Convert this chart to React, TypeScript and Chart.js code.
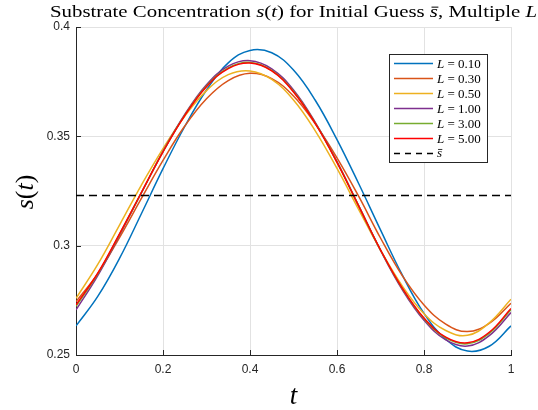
import React, { useEffect, useRef } from 'react';
import { Chart, registerables } from 'chart.js';

Chart.register(...registerables);

// ---- data ----
const tValues = [0, 0.05, 0.1, 0.15, 0.2, 0.25, 0.3, 0.35, 0.4, 0.45, 0.5, 0.55, 0.6, 0.65, 0.7, 0.75, 0.8, 0.85, 0.9, 0.95, 1];
const lLabels = ['0.10', '0.30', '0.50', '1.00', '3.00', '5.00'];
const sL010 = [0.2633, 0.2768, 0.2942, 0.3145, 0.3352, 0.3545, 0.3712, 0.3836, 0.3893, 0.3882, 0.3803, 0.3665, 0.3485, 0.3283, 0.3072, 0.2866, 0.2690, 0.2572, 0.2518, 0.2540, 0.2633];
const sL030 = [0.2744, 0.2872, 0.3037, 0.3215, 0.3390, 0.3547, 0.3672, 0.3755, 0.3788, 0.3764, 0.3684, 0.3557, 0.3402, 0.3225, 0.3035, 0.2863, 0.2729, 0.2641, 0.2607, 0.2645, 0.2737];
const sL050 = [0.2759, 0.2914, 0.3094, 0.3276, 0.3444, 0.3592, 0.3709, 0.3782, 0.3799, 0.3760, 0.3666, 0.3525, 0.3353, 0.3165, 0.2980, 0.2816, 0.2689, 0.2612, 0.2590, 0.2647, 0.2755];
const sL100 = [0.2706, 0.2863, 0.3048, 0.3240, 0.3431, 0.3600, 0.3736, 0.3821, 0.3846, 0.3809, 0.3712, 0.3564, 0.3384, 0.3182, 0.2979, 0.2799, 0.2659, 0.2569, 0.2541, 0.2589, 0.2694];
const sL300 = [0.2722, 0.2871, 0.3052, 0.3241, 0.3430, 0.3597, 0.3730, 0.3813, 0.3838, 0.3802, 0.3706, 0.3561, 0.3382, 0.3181, 0.2980, 0.2804, 0.2666, 0.2578, 0.2551, 0.2599, 0.2707];
const sL500 = [0.2729, 0.2874, 0.3054, 0.3242, 0.3429, 0.3595, 0.3727, 0.3810, 0.3835, 0.3799, 0.3703, 0.3559, 0.3381, 0.3181, 0.2981, 0.2806, 0.2669, 0.2582, 0.2556, 0.2604, 0.2713];
const sBar = 0.3229;
const xTicks = [0, 0.2, 0.4, 0.6, 0.8, 1];
const yTicks = [0.25, 0.3, 0.35, 0.4];

const seriesValues = [sL010, sL030, sL050, sL100, sL300, sL500];
const colors = ['#0072BD', '#D95319', '#EDB120', '#7E2F8E', '#77AC30', '#FF0000'];

const SERIF = '"Liberation Serif", "Times New Roman", serif';
const SANS = '"Liberation Sans", Arial, Helvetica, sans-serif';
const INK = '#262626';

type Seg = { t: string; i: boolean; bar?: boolean };

function segWidth(ctx: CanvasRenderingContext2D, segs: Seg[], size: number) {
  let w = 0;
  for (const s of segs) {
    ctx.font = `${s.i ? 'italic ' : ''}${size}px ${SERIF}`;
    w += ctx.measureText(s.t).width;
  }
  return w;
}

function drawSegs(ctx: CanvasRenderingContext2D, segs: Seg[], size: number, x: number, y: number) {
  let cx = x;
  ctx.textBaseline = 'alphabetic';
  ctx.textAlign = 'left';
  for (const s of segs) {
    ctx.font = `${s.i ? 'italic ' : ''}${size}px ${SERIF}`;
    const w = ctx.measureText(s.t).width;
    ctx.fillText(s.t, cx, y);
    if (s.bar) {
      ctx.save();
      ctx.lineWidth = Math.max(0.8, size * 0.06);
      ctx.beginPath();
      const by = y - size * 0.58;
      ctx.moveTo(cx + size * 0.08, by);
      ctx.lineTo(cx + w + size * 0.02, by);
      ctx.stroke();
      ctx.restore();
    }
    cx += w;
  }
  return cx;
}

const decorPlugin = {
  id: 'decor',
  afterDraw(chart: any) {
    const ctx: CanvasRenderingContext2D = chart.ctx;
    const { left, right, bottom } = chart.chartArea;
    const xs = chart.scales.x;
    const ys = chart.scales.y;
    ctx.save();
    // inward ticks
    ctx.strokeStyle = INK;
    ctx.lineWidth = 1;
    ctx.beginPath();
    for (const v of xTicks) {
      const px = Math.round(xs.getPixelForValue(v)) + 0.5;
      ctx.moveTo(px, bottom);
      ctx.lineTo(px, bottom - 5);
    }
    for (const v of yTicks) {
      const py = Math.round(ys.getPixelForValue(v)) + 0.5;
      ctx.moveTo(left, py);
      ctx.lineTo(left + 5, py);
    }
    ctx.stroke();

    ctx.fillStyle = '#000';
    ctx.strokeStyle = '#000';
    // title (stretched horizontally to the reference width)
    const titleSegs: Seg[] = [
      { t: 'Substrate Concentration ', i: false },
      { t: 's', i: true },
      { t: '(', i: false },
      { t: 't', i: true },
      { t: ')', i: false },
      { t: ' for Initial Guess ', i: false },
      { t: 's', i: true, bar: true },
      { t: ', Multiple ', i: false },
      { t: 'L', i: true },
    ];
    const tSize = 17;
    const tW = segWidth(ctx, titleSegs, tSize);
    const targetW = 487;
    const sx = targetW / tW;
    ctx.save();
    ctx.translate((left + right) / 2 - targetW / 2, 17);
    ctx.scale(sx, 1);
    drawSegs(ctx, titleSegs, tSize, 0, 0);
    ctx.restore();

    // x label
    const xl: Seg[] = [{ t: 't', i: true }];
    const xw = segWidth(ctx, xl, 27);
    drawSegs(ctx, xl, 27, (left + right) / 2 - xw / 2, 404);

    // y label rotated
    const yl: Seg[] = [
      { t: 's', i: true },
      { t: '(', i: false },
      { t: 't', i: true },
      { t: ')', i: false },
    ];
    ctx.save();
    ctx.translate(33, 192);
    ctx.rotate(-Math.PI / 2);
    const yw = segWidth(ctx, yl, 26);
    drawSegs(ctx, yl, 26, -yw / 2, 0);
    ctx.restore();

    // legend
    const lx = 389.5, ly = 54.5, lw = 98, lh = 108;
    ctx.fillStyle = '#fff';
    ctx.fillRect(lx, ly, lw, lh);
    ctx.strokeStyle = INK;
    ctx.lineWidth = 1;
    ctx.strokeRect(lx, ly, lw, lh);
    for (let i = 0; i < 7; i++) {
      const ry = 63.5 + i * 15;
      ctx.beginPath();
      ctx.moveTo(394, ry);
      ctx.lineTo(433, ry);
      if (i < 6) {
        ctx.strokeStyle = colors[i];
        ctx.setLineDash([]);
      } else {
        ctx.strokeStyle = '#000';
        ctx.setLineDash([6, 5]);
      }
      ctx.lineWidth = 1.5;
      ctx.stroke();
      ctx.setLineDash([]);
      ctx.fillStyle = '#000';
      ctx.strokeStyle = '#000';
      if (i < 6) {
        drawSegs(ctx, [{ t: 'L', i: true }, { t: ' = ' + lLabels[i], i: false }], 13, 437, ry + 4.5);
      } else {
        drawSegs(ctx, [{ t: 's', i: true, bar: true }], 13, 437, ry + 3.5);
      }
    }
    ctx.restore();
  },
};

export default function App() {
  const ref = useRef<HTMLCanvasElement | null>(null);
  useEffect(() => {
    document.body.style.margin = '0';
    const canvas = ref.current;
    if (!canvas) return;
    const datasets: any[] = seriesValues.map((vals, i) => ({
      label: 'L = ' + lLabels[i],
      data: tValues.map((t, j) => ({ x: t, y: vals[j] })),
      borderColor: colors[i],
      backgroundColor: colors[i],
      borderWidth: 1.5,
      pointRadius: 0,
      tension: 0.4,
      fill: false,
      order: 10 - i,
    }));
    datasets.push({
      label: 's̄',
      data: [{ x: 0, y: sBar }, { x: 1, y: sBar }],
      borderColor: '#000',
      borderWidth: 1.5,
      borderDash: [8, 5],
      pointRadius: 0,
      fill: false,
      order: 0,
    });
    const chart = new Chart(canvas, {
      type: 'line',
      data: { datasets },
      options: {
        animation: false,
        responsive: false,
        devicePixelRatio: 1,
        layout: { padding: { left: 8, right: 27, top: 27, bottom: 0 } },
        plugins: { legend: { display: false }, title: { display: false }, tooltip: { enabled: false } },
        scales: {
          x: {
            type: 'linear',
            min: 0,
            max: 1,
            afterBuildTicks: (s: any) => { s.ticks = xTicks.map((v) => ({ value: v })); },
            afterFit: (s: any) => { s.height = 55; },
            ticks: { padding: 7, color: INK, font: { family: SANS, size: 12 }, callback: (v: any) => String(v), maxRotation: 0 },
            grid: { color: '#e2e2e2', lineWidth: 1, drawTicks: false },
            border: { display: true, color: INK, width: 1 },
          },
          y: {
            type: 'linear',
            min: 0.25,
            max: 0.4,
            afterBuildTicks: (s: any) => { s.ticks = yTicks.map((v) => ({ value: v })); },
            afterFit: (s: any) => { s.width = 68; },
            ticks: { padding: 6, color: INK, font: { family: SANS, size: 12 }, callback: (v: any) => String(v) },
            grid: { color: '#e2e2e2', lineWidth: 1, drawTicks: false },
            border: { display: true, color: INK, width: 1 },
          },
        },
      } as any,
      plugins: [decorPlugin],
    });
    return () => chart.destroy();
  }, []);
  return (
    <div style={{ width: 538, height: 410, background: '#fff' }}>
      <canvas ref={ref} width={538} height={410} style={{ display: 'block' }} />
    </div>
  );
}
